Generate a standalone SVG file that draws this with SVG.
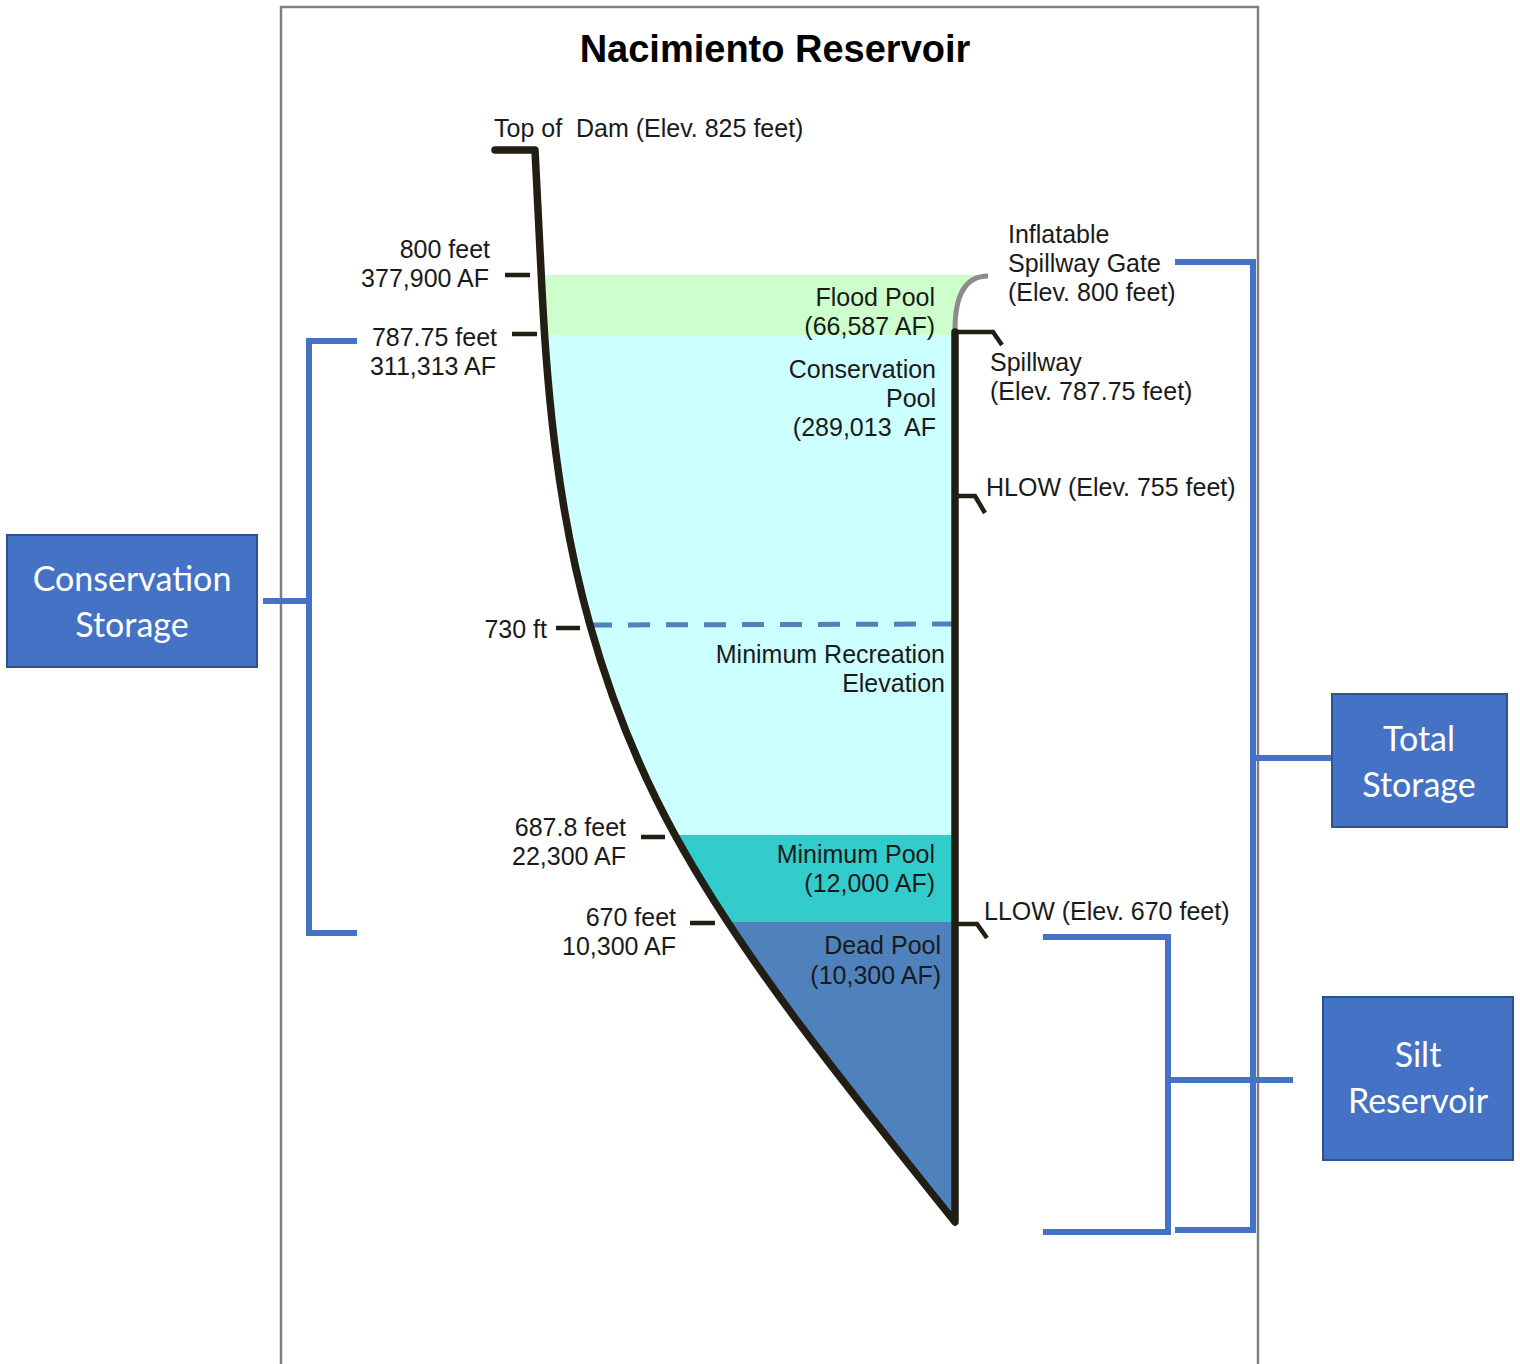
<svg xmlns="http://www.w3.org/2000/svg" width="1520" height="1364" viewBox="0 0 1520 1364">
<style>
.lbl{font-family:"Liberation Sans",Arial,sans-serif;font-size:25px;fill:#1a1a1a;white-space:pre}
.r{text-anchor:end}
.title{font-family:"Liberation Sans",Arial,sans-serif;font-size:38px;font-weight:bold;fill:#000;text-anchor:middle}
.box{fill:#4472c4;stroke:#2f528f;stroke-width:2}
.boxt{font-family:Lato,"Open Sans",sans-serif;font-size:34px;fill:#fff;text-anchor:middle}
.br{fill:none;stroke:#4472c4;stroke-width:6}
.tick{stroke:#221e14;stroke-width:4.5;fill:none}
.dam{fill:none;stroke:#221e14;stroke-width:7.5;stroke-linejoin:round;stroke-linecap:round}
</style>
<defs>
<clipPath id="res">
<path d="M535,150 L542,290 C547.5,400 559,515 590,625 C609.6,695 636.5,765 675,835 C746.5,965 851,1092 955,1222 L955,330 Q955,275 988,275 L988,150 Z"/>
</clipPath>
</defs>
<rect width="1520" height="1364" fill="#fff"/>
<path d="M281,1364 V7 H1258 V1364" fill="none" stroke="#7f7f7f" stroke-width="2.5"/>
<text class="title" x="775" y="62">Nacimiento Reservoir</text>

<g id="reservoir">
<g clip-path="url(#res)">
<rect x="520" y="275" width="480" height="60" fill="#ccffcc"/>
<rect x="520" y="335" width="480" height="500" fill="#ccffff"/>
<rect x="520" y="835" width="480" height="87" fill="#33cccc"/>
<rect x="520" y="922" width="480" height="310" fill="#4f81bd"/>
</g>
<path d="M590,625 L957,624" stroke="#4f81bd" stroke-width="5" stroke-dasharray="22 16" fill="none"/>
<path d="M988,276 Q955,276 955,330" fill="none" stroke="#8c8c8c" stroke-width="5"/>
<path class="dam" d="M495,150 L535,150 L542,290 C547.5,400 559,515 590,625 C609.6,695 636.5,765 675,835 C746.5,965 851,1092 955,1222 L955,332"/>
<path class="tick" d="M955,332 L993,332 L1002,345"/>
<path class="tick" d="M955,496 L975,496 L985,513"/>
<path class="tick" d="M955,924 L977,924 L987,938"/>
<path class="tick" d="M505,275 H530 M512,334 H537 M556,628 H580 M641,837 H665 M690,923 H715"/>
</g>

<g id="labels">
<text class="lbl" x="494" y="137">Top of  Dam (Elev. 825 feet)</text>
<text class="lbl r" x="490" y="258">800 feet</text>
<text class="lbl r" x="489" y="287">377,900 AF</text>
<text class="lbl r" x="497" y="346">787.75 feet</text>
<text class="lbl r" x="496" y="375">311,313 AF</text>
<text class="lbl r" x="547" y="638">730 ft</text>
<text class="lbl r" x="626" y="836">687.8 feet</text>
<text class="lbl r" x="626" y="865">22,300 AF</text>
<text class="lbl r" x="676" y="926">670 feet</text>
<text class="lbl r" x="676" y="955">10,300 AF</text>
<text class="lbl r" x="935" y="306">Flood Pool</text>
<text class="lbl r" x="935" y="335">(66,587 AF)</text>
<text class="lbl r" x="936" y="378">Conservation</text>
<text class="lbl r" x="936" y="407">Pool</text>
<text class="lbl r" x="936" y="436">(289,013  AF</text>
<text class="lbl r" x="945" y="663">Minimum Recreation</text>
<text class="lbl r" x="945" y="692">Elevation</text>
<text class="lbl r" x="935" y="863">Minimum Pool</text>
<text class="lbl r" x="935" y="892">(12,000 AF)</text>
<text class="lbl r" x="941" y="954">Dead Pool</text>
<text class="lbl r" x="941" y="984">(10,300 AF)</text>
<text class="lbl" x="1008" y="243">Inflatable</text>
<text class="lbl" x="1008" y="272">Spillway Gate</text>
<text class="lbl" x="1008" y="301">(Elev. 800 feet)</text>
<text class="lbl" x="990" y="371">Spillway</text>
<text class="lbl" x="990" y="400">(Elev. 787.75 feet)</text>
<text class="lbl" x="986" y="496">HLOW (Elev. 755 feet)</text>
<text class="lbl" x="984" y="920">LLOW (Elev. 670 feet)</text>
</g>

<g id="connectors">
<path class="br" d="M357,341 H309 V933 H357 M263,601 H309"/>
<path class="br" d="M1175,262 H1253 V1230 H1175 M1253,758 H1332"/>
<path class="br" d="M1043,937 H1168 V1232 H1043 M1168,1080 H1293"/>
</g>

<g id="conservation-storage">
<rect class="box" x="7" y="535" width="250" height="132"/>
<text class="boxt" x="132" y="591">Conservation</text>
<text class="boxt" x="132" y="637">Storage</text>
</g>
<g id="total-storage">
<rect class="box" x="1332" y="694" width="175" height="133"/>
<text class="boxt" x="1419" y="751">Total</text>
<text class="boxt" x="1419" y="797">Storage</text>
</g>
<g id="silt-reservoir">
<rect class="box" x="1323" y="997" width="190" height="163"/>
<text class="boxt" x="1418" y="1067">Silt</text>
<text class="boxt" x="1418" y="1113">Reservoir</text>
</g>
</svg>
